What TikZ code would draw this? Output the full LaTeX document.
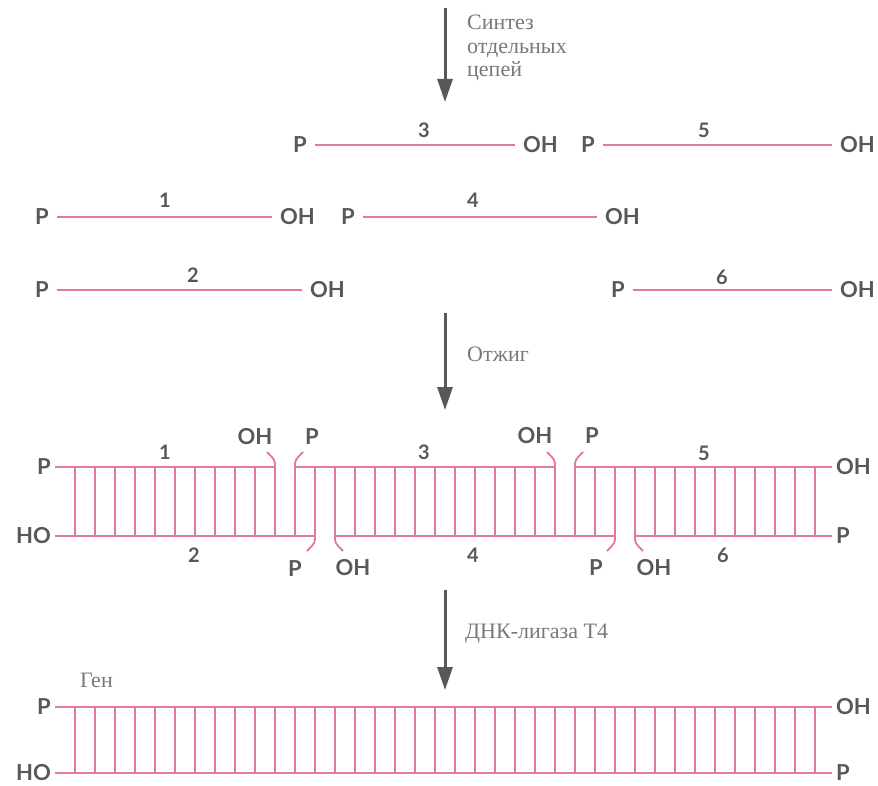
\documentclass[tikz,border=0pt]{standalone}
\usepackage{fontspec}
\setmainfont{Liberation Serif}
\newfontfamily\labfont{Lato}
\usetikzlibrary{arrows.meta}
\definecolor{dnapink}{RGB}{226,122,150}
\definecolor{labgray}{RGB}{88,88,88}
\definecolor{notegray}{RGB}{120,120,120}
\tikzset{
  strand/.style={dnapink, line width=1.8pt},
  rung/.style={dnapink, line width=1.1pt},
  endlbl/.style={font=\labfont\bfseries\fontsize{22}{22}\selectfont, text=labgray, inner xsep=8pt, inner ysep=1pt},
  ticklbl/.style={font=\labfont\bfseries\fontsize{22}{22}\selectfont, text=labgray, inner sep=0pt},
  numlbl/.style={font=\labfont\bfseries\fontsize{20}{20}\selectfont, text=labgray, inner sep=0pt},
  notetext/.style={font=\fontsize{22}{23.5}\selectfont, text=notegray, align=left, anchor=west, inner sep=0pt},
  steparrow/.style={draw=labgray, line width=3pt, -{Triangle[length=23pt,width=15pt]}}
}
\begin{document}
\begin{tikzpicture}[x=1pt,y=-1pt]
\useasboundingbox (0,0) rectangle (878,786);
% step 1: synthesis
\coordinate (a1s) at (445,8);
\coordinate (a1e) at (445,102);
\draw[steparrow] (a1s) -- (a1e);
\node[notetext] (synth) at (467,48) {Синтез\\отдельных\\цепей};
% single strands
\node[endlbl,anchor=east] (p3) at (315,145) {P};
\node[endlbl,anchor=west] (oh3) at (515,145) {OH};
\draw[strand] (p3) -- (oh3);
\node[numlbl] (n3) at (424,130) {3};
\node[endlbl,anchor=east] (p5) at (603,145) {P};
\node[endlbl,anchor=west] (oh5) at (832,145) {OH};
\draw[strand] (p5) -- (oh5);
\node[numlbl] (n5) at (704,130) {5};
\node[endlbl,anchor=east] (p1) at (57,217) {P};
\node[endlbl,anchor=west] (oh1) at (272,217) {OH};
\draw[strand] (p1) -- (oh1);
\node[numlbl] (n1) at (165,200) {1};
\node[endlbl,anchor=east] (p4) at (363,217) {P};
\node[endlbl,anchor=west] (oh4) at (597,217) {OH};
\draw[strand] (p4) -- (oh4);
\node[numlbl] (n4) at (473,200) {4};
\node[endlbl,anchor=east] (p2) at (57,290) {P};
\node[endlbl,anchor=west] (oh2) at (302,290) {OH};
\draw[strand] (p2) -- (oh2);
\node[numlbl] (n2) at (193,275) {2};
\node[endlbl,anchor=east] (p6) at (633,290) {P};
\node[endlbl,anchor=west] (oh6) at (832,290) {OH};
\draw[strand] (p6) -- (oh6);
\node[numlbl] (n6) at (722,277) {6};
% step 2: annealing
\coordinate (a2s) at (445,313);
\coordinate (a2e) at (445,410);
\draw[steparrow] (a2s) -- (a2e);
\node[notetext] (anneal) at (467,354) {Отжиг};
% annealed duplex with nicks
\node[endlbl,anchor=east,inner xsep=4pt] (dp1) at (55,467) {P};
\node[endlbl,anchor=east,inner xsep=4pt] (dho2) at (55,536) {HO};
\node[endlbl,anchor=west,inner xsep=4pt] (doh5) at (832,467) {OH};
\node[endlbl,anchor=west,inner xsep=4pt] (dp6) at (832,536) {P};
\foreach \k in {0,...,37}
  \draw[rung] (75+20*\k,467) -- (75+20*\k,536);
\draw[strand] (dp1.east) -- (275,467) .. controls (275,460) .. (267,452);
\draw[strand] (303,452) .. controls (295,460) .. (295,467) -- (555,467) .. controls (555,460) .. (547,452);
\draw[strand] (583,452) .. controls (575,460) .. (575,467) -- (doh5.west);
\draw[strand] (dho2.east) -- (315,536) .. controls (315,543) .. (307,551);
\draw[strand] (343,551) .. controls (335,543) .. (335,536) -- (615,536) .. controls (615,543) .. (607,551);
\draw[strand] (643,551) .. controls (635,543) .. (635,536) -- (dp6.west);
\node[ticklbl] (toh1) at (255,437) {OH};
\node[ticklbl] (tp3) at (312,437) {P};
\node[ticklbl] (toh3) at (535,436) {OH};
\node[ticklbl] (tp5) at (592,436) {P};
\node[ticklbl] (tp2) at (295,569) {P};
\node[ticklbl] (toh4) at (353,568) {OH};
\node[ticklbl] (tp4) at (596,568) {P};
\node[ticklbl] (toh6) at (654,568) {OH};
\node[numlbl] (dn1) at (165,452) {1};
\node[numlbl] (dn3) at (424,452) {3};
\node[numlbl] (dn5) at (704,453) {5};
\node[numlbl] (dn2) at (194,555) {2};
\node[numlbl] (dn4) at (473,555) {4};
\node[numlbl] (dn6) at (723,555) {6};
% step 3: ligation
\coordinate (a3s) at (445,590);
\coordinate (a3e) at (445,690);
\draw[steparrow] (a3s) -- (a3e);
\node[notetext] (ligase) at (465,634) {ДНК-лигаза Т4};
% gene
\node[notetext] (gene) at (80,680) {Ген};
\node[endlbl,anchor=east,inner xsep=4pt] (gp) at (55,707) {P};
\node[endlbl,anchor=east,inner xsep=4pt] (gho) at (55,773) {HO};
\node[endlbl,anchor=west,inner xsep=4pt] (goh) at (832,707) {OH};
\node[endlbl,anchor=west,inner xsep=4pt] (gp2) at (832,773) {P};
\foreach \k in {0,...,37}
  \draw[rung] (75+20*\k,707) -- (75+20*\k,773);
\draw[strand] (gp) -- (goh);
\draw[strand] (gho) -- (gp2);
\end{tikzpicture}
\end{document}
